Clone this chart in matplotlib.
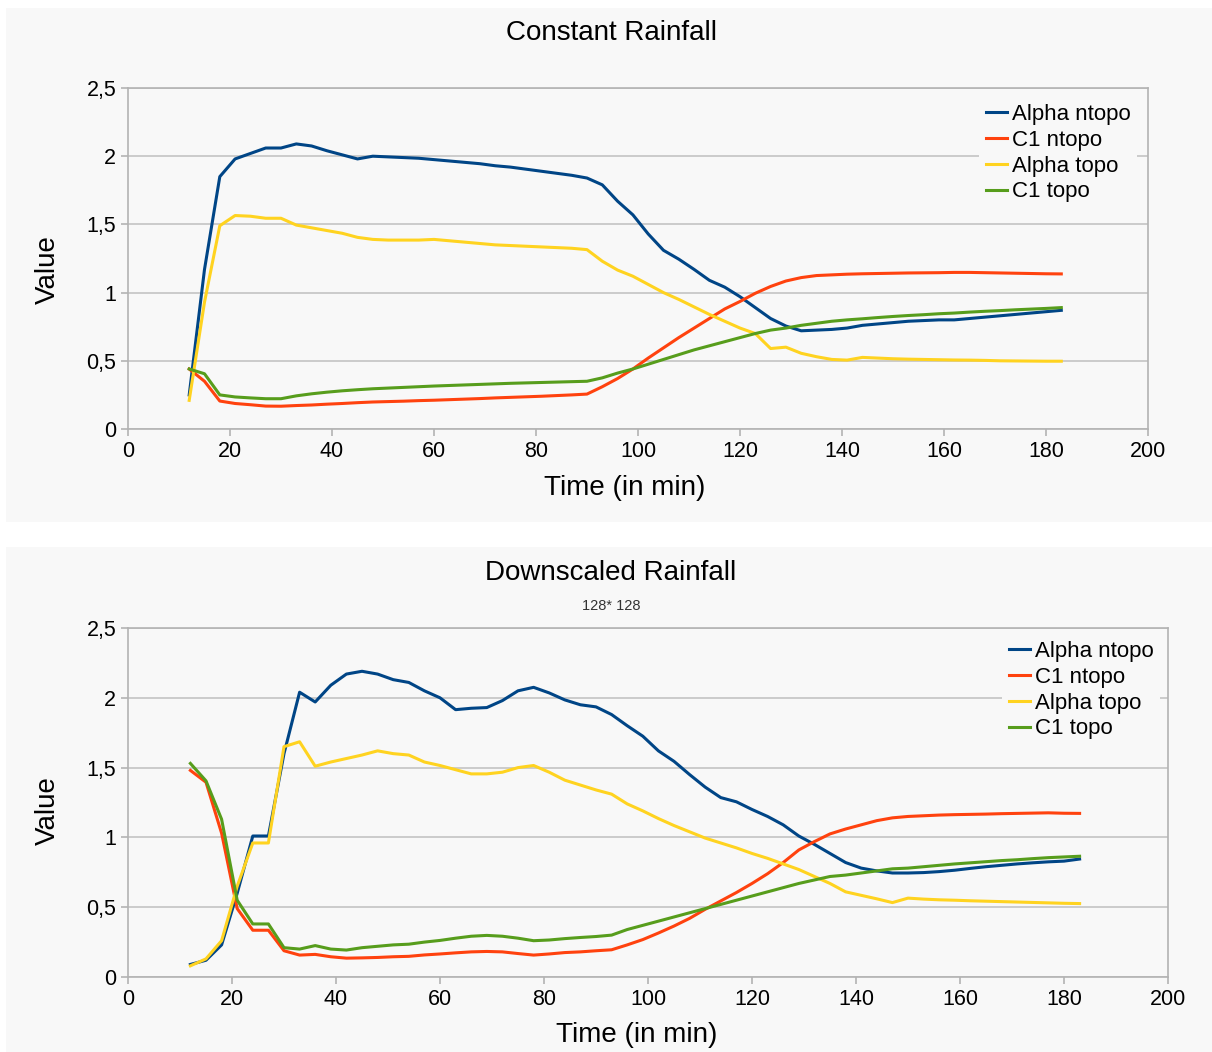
import matplotlib
matplotlib.use("Agg")
import matplotlib.pyplot as plt
from matplotlib.patches import Rectangle
from matplotlib.ticker import FuncFormatter

plt.rcParams['font.family'] = ['Liberation Sans', 'DejaVu Sans']

# time axis (minutes)
time = [12, 15, 18, 21, 24, 27, 30, 33, 36, 39, 42, 45, 48, 51, 54, 57, 60, 63, 66, 69,
        72, 75, 78, 81, 84, 87, 90, 93, 96, 99, 102, 105, 108, 111, 114, 117, 120, 123,
        126, 129, 132, 135, 138, 141, 144, 147, 150, 153, 156, 159, 162, 165, 168, 171,
        174, 177, 180, 183]

# Constant Rainfall
const_alpha_ntopo = [0.25, 1.17, 1.85, 1.98, 2.02, 2.06, 2.06, 2.09, 2.075, 2.04, 2.01, 1.98,
                     2.00, 1.995, 1.99, 1.985, 1.975, 1.965, 1.955, 1.945, 1.93, 1.92, 1.905,
                     1.89, 1.875, 1.86, 1.84, 1.79, 1.67, 1.57, 1.43, 1.31, 1.245, 1.17, 1.09,
                     1.04, 0.97, 0.89, 0.81, 0.755, 0.72, 0.725, 0.73, 0.74, 0.76, 0.77, 0.78,
                     0.79, 0.795, 0.80, 0.80, 0.81, 0.82, 0.83, 0.84, 0.85, 0.86, 0.87]
const_c1_ntopo = [0.44, 0.35, 0.205, 0.187, 0.178, 0.168, 0.167, 0.172, 0.176, 0.182, 0.187,
                  0.193, 0.198, 0.201, 0.204, 0.208, 0.211, 0.215, 0.219, 0.223, 0.228, 0.232,
                  0.236, 0.240, 0.245, 0.250, 0.256, 0.31, 0.37, 0.44, 0.52, 0.595, 0.67, 0.74,
                  0.81, 0.88, 0.935, 0.995, 1.045, 1.085, 1.11, 1.125, 1.13, 1.135, 1.138, 1.14,
                  1.142, 1.144, 1.145, 1.146, 1.148, 1.148, 1.146, 1.144, 1.142, 1.140, 1.138,
                  1.137]
const_alpha_topo = [0.21, 0.93, 1.49, 1.565, 1.56, 1.545, 1.545, 1.495, 1.475, 1.455, 1.435,
                    1.405, 1.39, 1.385, 1.385, 1.385, 1.39, 1.38, 1.37, 1.36, 1.35, 1.345, 1.34,
                    1.335, 1.33, 1.325, 1.315, 1.23, 1.165, 1.12, 1.06, 1.00, 0.95, 0.895, 0.84,
                    0.79, 0.74, 0.70, 0.59, 0.60, 0.555, 0.53, 0.51, 0.505, 0.525, 0.52, 0.515,
                    0.512, 0.51, 0.508, 0.506, 0.505, 0.503, 0.50, 0.499, 0.498, 0.497, 0.497]
const_c1_topo = [0.44, 0.405, 0.25, 0.235, 0.228, 0.222, 0.222, 0.243, 0.258, 0.27, 0.28,
                 0.288, 0.295, 0.30, 0.305, 0.31, 0.315, 0.319, 0.323, 0.327, 0.331, 0.335,
                 0.338, 0.341, 0.344, 0.347, 0.35, 0.375, 0.41, 0.44, 0.475, 0.51, 0.545, 0.58,
                 0.61, 0.64, 0.67, 0.70, 0.725, 0.74, 0.76, 0.775, 0.79, 0.80, 0.808, 0.817,
                 0.825, 0.832, 0.838, 0.845, 0.85, 0.857, 0.863, 0.868, 0.874, 0.879, 0.884,
                 0.89]

# Downscaled Rainfall (128*128)
down_alpha_ntopo = [0.09, 0.12, 0.23, 0.60, 1.01, 1.01, 1.60, 2.04, 1.97, 2.09, 2.17, 2.19,
                    2.17, 2.13, 2.11, 2.05, 2.00, 1.915, 1.925, 1.93, 1.98, 2.05, 2.075, 2.035,
                    1.985, 1.95, 1.935, 1.88, 1.80, 1.725, 1.62, 1.545, 1.45, 1.36, 1.285,
                    1.255, 1.20, 1.15, 1.09, 1.01, 0.95, 0.885, 0.82, 0.78, 0.76, 0.745, 0.745,
                    0.748, 0.755, 0.765, 0.778, 0.79, 0.80, 0.81, 0.818, 0.825, 0.83, 0.845]
down_c1_ntopo = [1.48, 1.395, 1.03, 0.49, 0.335, 0.335, 0.188, 0.157, 0.162, 0.145, 0.135,
                 0.137, 0.14, 0.145, 0.148, 0.158, 0.165, 0.173, 0.18, 0.183, 0.18, 0.168,
                 0.157, 0.165, 0.175, 0.18, 0.188, 0.195, 0.23, 0.268, 0.315, 0.365, 0.42,
                 0.485, 0.545, 0.605, 0.67, 0.74, 0.82, 0.91, 0.97, 1.025, 1.06, 1.09, 1.12,
                 1.14, 1.15, 1.155, 1.16, 1.163, 1.165, 1.167, 1.17, 1.172, 1.174, 1.176,
                 1.173, 1.172]
down_alpha_topo = [0.08, 0.13, 0.26, 0.65, 0.96, 0.96, 1.65, 1.685, 1.51, 1.54, 1.565, 1.59,
                   1.62, 1.60, 1.59, 1.54, 1.515, 1.485, 1.455, 1.455, 1.467, 1.50, 1.515,
                   1.467, 1.41, 1.375, 1.34, 1.31, 1.24, 1.19, 1.135, 1.085, 1.04, 0.995, 0.96,
                   0.925, 0.885, 0.85, 0.81, 0.77, 0.72, 0.67, 0.61, 0.585, 0.56, 0.533, 0.565,
                   0.558, 0.553, 0.55, 0.546, 0.543, 0.54, 0.537, 0.534, 0.531, 0.528, 0.526]
down_c1_topo = [1.53, 1.405, 1.13, 0.55, 0.38, 0.38, 0.21, 0.20, 0.225, 0.20, 0.193, 0.21,
                0.22, 0.23, 0.235, 0.25, 0.262, 0.278, 0.292, 0.298, 0.292, 0.278, 0.26, 0.265,
                0.275, 0.283, 0.29, 0.30, 0.34, 0.37, 0.40, 0.43, 0.46, 0.49, 0.52, 0.55, 0.58,
                0.61, 0.64, 0.67, 0.695, 0.72, 0.73, 0.745, 0.76, 0.775, 0.78, 0.79, 0.80,
                0.81, 0.818, 0.826, 0.834, 0.84, 0.848, 0.855, 0.86, 0.865]

labels = ["Alpha ntopo", "C1 ntopo", "Alpha topo", "C1 topo"]
colors = ["#004586", "#ff420e", "#ffd320", "#579d1c"]
bg = "#f8f8f8"
W, H = 1212, 1052

fig = plt.figure(figsize=(W / 100, H / 100), dpi=100, facecolor="white")

# panel backgrounds (behind the axes)
fig.patches.append(Rectangle((6 / W, 1 - 522 / H), 1 - 6 / W, 514 / H,
                             transform=fig.transFigure, facecolor=bg, edgecolor="none", zorder=-5))
fig.patches.append(Rectangle((6 / W, 0), 1 - 6 / W, 1 - 547 / H,
                             transform=fig.transFigure, facecolor=bg, edgecolor="none", zorder=-5))


def comma(v, pos):
    s = "%g" % v
    return s.replace(".", ",")


def draw(ax, series, leg_xy):
    ax.set_facecolor(bg)
    for ys, lab, c in zip(series, labels, colors):
        ax.plot(time, ys, color=c, lw=2.2, label=lab, solid_joinstyle="round")
    ax.set_xlim(0, 200)
    ax.set_ylim(0, 2.5)
    ax.set_xticks(range(0, 201, 20))
    ax.set_yticks([0, 0.5, 1, 1.5, 2, 2.5])
    ax.yaxis.set_major_formatter(FuncFormatter(comma))
    ax.grid(axis="y", color="#c4c4c4", lw=1.2)
    ax.set_axisbelow(True)
    for s in ax.spines.values():
        s.set_color("#b3b3b3")
        s.set_linewidth(1.2)
    ax.tick_params(colors="#b3b3b3", labelcolor="black", labelsize=15.5, length=5, width=1.2)
    leg = ax.legend(loc="upper left", bbox_to_anchor=(leg_xy[0] / W, 1 - leg_xy[1] / H),
                    bbox_transform=fig.transFigure, frameon=True, fontsize=16,
                    handlelength=0.95, handletextpad=0.22, labelspacing=0.22,
                    borderpad=0.3, fancybox=False)
    leg.get_frame().set_facecolor(bg)
    leg.get_frame().set_edgecolor("none")
    leg.get_frame().set_alpha(1)


ax1 = fig.add_axes([128 / W, 1 - 429 / H, (1148 - 128) / W, 341 / H])
draw(ax1, [const_alpha_ntopo, const_c1_ntopo, const_alpha_topo, const_c1_topo], (968, 86))

ax2 = fig.add_axes([128 / W, 1 - 977 / H, (1168 - 128) / W, 349 / H])
draw(ax2, [down_alpha_ntopo, down_c1_ntopo, down_alpha_topo, down_c1_topo], (991, 623))

fig.text(611 / W, 1 - 33 / H, "Constant Rainfall", ha="center", va="center", fontsize=20)
fig.text(625 / W, 1 - 488 / H, "Time (in min)", ha="center", va="center", fontsize=20)
fig.text(48 / W, 1 - 270 / H, "Value", ha="center", va="center", rotation=90, fontsize=20)

fig.text(611 / W, 1 - 573 / H, "Downscaled Rainfall", ha="center", va="center", fontsize=20)
fig.text(611 / W, 1 - 606 / H, "128* 128", ha="center", va="center", fontsize=10.5, color="#333333")
fig.text(637 / W, 1 - 1035 / H, "Time (in min)", ha="center", va="center", fontsize=20)
fig.text(48 / W, 1 - 811 / H, "Value", ha="center", va="center", rotation=90, fontsize=20)

fig.savefig("out.png", dpi=100, facecolor="white")
